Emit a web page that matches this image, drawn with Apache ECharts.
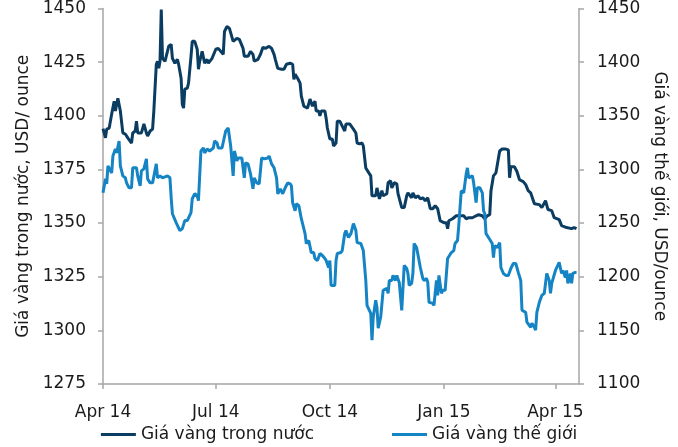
<!DOCTYPE html>
<html>
<head>
<meta charset="utf-8">
<script src="https://cdn.jsdelivr.net/npm/echarts@6/dist/echarts.min.js"></script>
<style>
  html, body { margin: 0; padding: 0; background: #fff; }
  #chart { width: 678px; height: 447px; }
</style>
</head>
<body>
<div id="chart"></div>
<script>
// giá vàng trong nước (trục trái)
let vnDates = ['2014-04-01','2014-04-03','2014-04-04','2014-04-06','2014-04-08','2014-04-10','2014-04-11','2014-04-13','2014-04-15','2014-04-17',
  '2014-04-19','2014-04-21','2014-04-24','2014-04-25','2014-04-27','2014-04-28','2014-04-29','2014-05-02','2014-05-04','2014-05-06',
  '2014-05-07','2014-05-09','2014-05-11','2014-05-12','2014-05-14','2014-05-15','2014-05-16','2014-05-17','2014-05-18','2014-05-19',
  '2014-05-21','2014-05-23','2014-05-24','2014-05-26','2014-05-27','2014-05-29','2014-05-31','2014-06-01','2014-06-03','2014-06-04',
  '2014-06-05','2014-06-06','2014-06-08','2014-06-09','2014-06-11','2014-06-12','2014-06-14','2014-06-16','2014-06-17','2014-06-18',
  '2014-06-20','2014-06-21','2014-06-22','2014-06-24','2014-06-25','2014-06-28','2014-06-29','2014-07-01','2014-07-03','2014-07-05',
  '2014-07-07','2014-07-08','2014-07-10','2014-07-12','2014-07-15','2014-07-18','2014-07-20','2014-07-23','2014-07-24','2014-07-27',
  '2014-07-29','2014-07-31','2014-08-01','2014-08-04','2014-08-06','2014-08-08','2014-08-10','2014-08-13','2014-08-15','2014-08-17',
  '2014-08-18','2014-08-20','2014-08-23','2014-08-25','2014-08-27','2014-08-30','2014-09-01','2014-09-02','2014-09-03','2014-09-05',
  '2014-09-07','2014-09-08','2014-09-10','2014-09-11','2014-09-13','2014-09-15','2014-09-17','2014-09-19','2014-09-20','2014-09-22',
  '2014-09-23','2014-09-24','2014-09-27','2014-09-28','2014-09-29','2014-10-01','2014-10-03','2014-10-04','2014-10-06','2014-10-07',
  '2014-10-09','2014-10-11','2014-10-13','2014-10-14','2014-10-17','2014-10-18','2014-10-20','2014-10-22','2014-10-23','2014-10-25',
  '2014-10-27','2014-10-28','2014-10-30','2014-10-31','2014-11-03','2014-11-04','2014-11-07','2014-11-08','2014-11-10','2014-11-12',
  '2014-11-13','2014-11-16','2014-11-17','2014-11-19','2014-11-20','2014-11-22','2014-11-24','2014-11-25','2014-11-28','2014-11-30',
  '2014-12-02','2014-12-03','2014-12-06','2014-12-07','2014-12-09','2014-12-11','2014-12-13','2014-12-15','2014-12-17','2014-12-19',
  '2014-12-21','2014-12-23','2014-12-25','2014-12-27','2014-12-29','2015-01-01','2015-01-03','2015-01-04','2015-01-05','2015-01-08',
  '2015-01-11','2015-01-13','2015-01-17','2015-01-19','2015-01-21','2015-01-24','2015-01-27','2015-01-29','2015-02-01','2015-02-03',
  '2015-02-05','2015-02-07','2015-02-08','2015-02-10','2015-02-12','2015-02-13','2015-02-15','2015-02-17','2015-02-20','2015-02-22',
  '2015-02-23','2015-02-24','2015-02-27','2015-03-01','2015-03-03','2015-03-06','2015-03-08','2015-03-10','2015-03-12','2015-03-15',
  '2015-03-16','2015-03-19','2015-03-21','2015-03-24','2015-03-26','2015-03-29','2015-03-31','2015-04-01','2015-04-04','2015-04-06',
  '2015-04-10','2015-04-14','2015-04-16','2015-04-18']
let vnValues = [1394,1389.7,1393.8,1394.3,1400.8,1406.8,1402.2,1408.2,1402.2,1392,
  1391.5,1389.7,1387.3,1392,1392.9,1397.5,1392,1392,1396.2,1392,
  1390.6,1392.9,1393.8,1402.2,1424,1425.4,1422.1,1425.4,1449.5,1426.8,
  1425.4,1430,1432.4,1433.3,1426.8,1424.5,1426.3,1424,1417.5,1405.4,
  1403.6,1412.4,1412.9,1415.2,1427.7,1434.7,1434.7,1431,1421.7,1425.4,
  1430,1429.1,1424.5,1426.3,1424.5,1426.8,1426.3,1431,1431.4,1430,
  1428.6,1439.3,1441.6,1440.7,1434.7,1436.1,1435.6,1431.4,1427.7,1427.7,
  1430,1428.6,1425.4,1426.3,1428.6,1431.9,1431.4,1432.4,1431.4,1428.6,
  1426.3,1422.1,1421.7,1421.7,1424,1424.5,1424,1417,1419.4,1417.5,
  1415.2,1409.2,1404.5,1403.6,1403.6,1407.8,1404.5,1406.8,1402.2,1402.2,
  1399.9,1402.2,1402.2,1398.9,1394.3,1389.2,1389.2,1385.9,1387.3,1397.5,
  1397.5,1395.2,1392.9,1396.2,1396.2,1396.2,1393.8,1392,1387.3,1386.9,
  1387.3,1385.9,1375.7,1375.3,1372,1362.7,1362.7,1366.4,1361.3,1365.1,
  1362.7,1363.7,1368.8,1369.7,1366.4,1368.8,1368.3,1363.7,1357.2,1357.2,
  1362.7,1364.1,1361.8,1364.1,1361.8,1362.7,1361.3,1361.8,1360.4,1361.8,
  1356.7,1356.7,1358.1,1356.7,1351.1,1350.2,1350.2,1347.4,1351.1,1352,
  1353.4,1353.4,1353.4,1352,1352.5,1352.5,1353.4,1353.9,1353.4,1352,
  1353.4,1353.9,1365.1,1372,1373.4,1373.9,1383.6,1384.5,1384.5,1384.1,
  1371.1,1376.2,1376.2,1373.9,1370.2,1369.3,1367.9,1365.1,1364.1,1359,
  1358.6,1358.6,1357.2,1360.4,1356.3,1355.8,1352.5,1351.6,1351.6,1348.8,
  1347.9,1347.4,1347.9,1347.4]

// giá vàng thế giới (trục phải)
let worldDates = ['2014-04-01','2014-04-03','2014-04-04','2014-04-05','2014-04-07','2014-04-08','2014-04-09','2014-04-11','2014-04-12','2014-04-14',
  '2014-04-15','2014-04-17','2014-04-19','2014-04-20','2014-04-22','2014-04-24','2014-04-25','2014-04-28','2014-04-29','2014-05-01',
  '2014-05-02','2014-05-04','2014-05-06','2014-05-07','2014-05-09','2014-05-11','2014-05-14','2014-05-15','2014-05-17','2014-05-19',
  '2014-05-23','2014-05-25','2014-05-26','2014-05-27','2014-05-30','2014-05-31','2014-06-02','2014-06-04','2014-06-06','2014-06-08',
  '2014-06-11','2014-06-12','2014-06-14','2014-06-16','2014-06-17','2014-06-19','2014-06-21','2014-06-22','2014-06-24','2014-06-26',
  '2014-06-29','2014-06-30','2014-07-02','2014-07-03','2014-07-06','2014-07-07','2014-07-09','2014-07-11','2014-07-13','2014-07-15',
  '2014-07-16','2014-07-18','2014-07-19','2014-07-22','2014-07-24','2014-07-25','2014-07-27','2014-07-29','2014-07-31','2014-08-01',
  '2014-08-03','2014-08-05','2014-08-07','2014-08-09','2014-08-12','2014-08-13','2014-08-15','2014-08-17','2014-08-19','2014-08-20',
  '2014-08-22','2014-08-24','2014-08-26','2014-08-28','2014-08-30','2014-08-31','2014-09-01','2014-09-03','2014-09-04','2014-09-06',
  '2014-09-08','2014-09-09','2014-09-11','2014-09-12','2014-09-14','2014-09-15','2014-09-16','2014-09-18','2014-09-19','2014-09-21',
  '2014-09-23','2014-09-25','2014-09-27','2014-09-28','2014-09-30','2014-10-01','2014-10-02','2014-10-05','2014-10-06','2014-10-07',
  '2014-10-10','2014-10-11','2014-10-13','2014-10-14','2014-10-16','2014-10-18','2014-10-20','2014-10-22','2014-10-23','2014-10-26',
  '2014-10-28','2014-10-30','2014-10-31','2014-11-01','2014-11-03','2014-11-04','2014-11-05','2014-11-07','2014-11-08','2014-11-09',
  '2014-11-11','2014-11-12','2014-11-13','2014-11-16','2014-11-17','2014-11-18','2014-11-20','2014-11-21','2014-11-23','2014-11-24',
  '2014-11-26','2014-11-28','2014-11-29','2014-11-30','2014-12-02','2014-12-03','2014-12-04','2014-12-06','2014-12-07','2014-12-08',
  '2014-12-10','2014-12-11','2014-12-13','2014-12-15','2014-12-16','2014-12-18','2014-12-19','2014-12-20','2014-12-23','2014-12-24',
  '2014-12-26','2014-12-27','2014-12-28','2014-12-30','2014-12-31','2015-01-02','2015-01-04','2015-01-05','2015-01-07','2015-01-09',
  '2015-01-10','2015-01-12','2015-01-13','2015-01-15','2015-01-17','2015-01-19','2015-01-20','2015-01-21','2015-01-24','2015-01-25',
  '2015-01-27','2015-01-28','2015-01-30','2015-02-01','2015-02-02','2015-02-03','2015-02-04','2015-02-06','2015-02-07','2015-02-09',
  '2015-02-10','2015-02-11','2015-02-13','2015-02-15','2015-02-16','2015-02-18','2015-02-20','2015-02-22','2015-02-24','2015-02-26',
  '2015-02-28','2015-03-02','2015-03-04','2015-03-05','2015-03-08','2015-03-09','2015-03-12','2015-03-13','2015-03-15','2015-03-16',
  '2015-03-17','2015-03-19','2015-03-21','2015-03-23','2015-03-24','2015-03-25','2015-03-27','2015-03-28','2015-03-29','2015-04-01',
  '2015-04-02','2015-04-04','2015-04-06','2015-04-07','2015-04-09','2015-04-10','2015-04-11','2015-04-13','2015-04-14','2015-04-15',
  '2015-04-17','2015-04-18']
let worldValues = [1278.2,1291.2,1286.6,1303.3,1298.7,1296.8,1312.6,1319.1,1315.4,1326.5,
  1303.3,1294,1292.2,1287.5,1282.9,1282.9,1301.5,1301.5,1294,1284.7,
  1298.7,1300.5,1309.8,1291.2,1287.5,1287.5,1305.2,1292.2,1294,1292.2,
  1294,1292.2,1273.6,1258.7,1250.4,1249.5,1243,1244.8,1252.3,1252.3,
  1259.7,1272.7,1277.3,1275.5,1270.8,1317.2,1320,1315.4,1319.1,1317.2,
  1320,1326.5,1324.7,1320,1320,1320,1335.8,1338.6,1321.9,1294,
  1317.2,1307.9,1310.7,1310.7,1292.2,1306.1,1305.2,1295.9,1281.9,1292.2,
  1287.5,1286.6,1310.7,1309.8,1310.7,1312.6,1305.2,1301.5,1292.2,1277.3,
  1281.9,1277.3,1282.9,1287.5,1286.6,1284.7,1269,1261.5,1268,1266.2,
  1254.1,1249.5,1240.2,1230.9,1233.7,1235.5,1222.5,1222.5,1217,1215.1,
  1221.6,1219.8,1217,1215.1,1208.6,1215.1,1191.9,1191.9,1215.1,1221.6,
  1222.5,1224.4,1240.2,1243,1236.5,1240.2,1249.5,1243,1231.8,1230.9,
  1224.4,1196.5,1173.3,1171.5,1165.9,1140.8,1162.2,1178,1171.5,1152,
  1162.2,1162.2,1187.3,1189.1,1184.5,1196.5,1196.5,1201.2,1196.5,1201.2,
  1194.7,1168.7,1168.7,1210.5,1207.7,1203,1191.9,1193.8,1203,1230.9,
  1227.2,1227.2,1208.6,1198.4,1196.5,1198.4,1194.7,1176.1,1175.2,1173.3,
  1196.5,1182.6,1201.2,1184.5,1187.3,1187.3,1217,1217,1222.5,1224.4,
  1230.9,1233.7,1247.6,1280.1,1278.2,1295.9,1301.5,1292.2,1294,1287.5,
  1269,1282.9,1282.9,1278.2,1261.5,1258.7,1240.2,1236.5,1238.3,1230.9,
  1217.9,1229,1227.2,1231.8,1208.6,1203,1201.2,1201.2,1207.7,1212.3,
  1212.3,1204,1196.5,1168.7,1166.8,1157.6,1152.9,1156.6,1152.9,1150.1,
  1166.8,1176.1,1182.6,1184.5,1193.8,1203,1196.5,1184.5,1193.8,1205.8,
  1205.8,1213.3,1203,1205.8,1199.3,1205.8,1193.8,1203,1193.8,1203,
  1204,1204]

let tickDates = ['2014-04-01','2014-07-01','2014-10-01','2015-01-01','2015-04-01']
let tickLabels = ['Apr 14','Jul 14','Oct 14','Jan 15','Apr 15']

let seriesNames = ['Giá vàng trong nước','Giá vàng thế giới']
let colors = ['#0b3d62','#1584c4']

function ts(s){
  let p = s.split('-')
  return Date.UTC(+p[0], +p[1]-1, +p[2])
}
let tickTs = tickDates.map(ts)

let font = 'DejaVu Sans'
let textColor = '#1a1a1a'
let axisGray = '#a6a6a6'

var myChart = echarts.init(document.getElementById('chart'))
var option = {
  animation: false,
  textStyle: { fontFamily: font },
  grid: { left: 103, right: 99, top: 7, bottom: 63, containLabel: false },
  legend: {
    bottom: -1,
    left: 'center',
    itemGap: 78,
    itemWidth: 35,
    itemHeight: 3,
    icon: 'rect',
    textStyle: { fontFamily: font, fontSize: 17, color: textColor },
    data: seriesNames
  },
  xAxis: {
    type: 'value',
    min: ts('2014-04-01'),
    max: ts('2015-04-20'),
    axisLine: { lineStyle: { color: axisGray, width: 1.5 } },
    axisTick: { show: true, length: 5, lineStyle: { color: axisGray, width: 1.5 }, customValues: tickTs },
    axisLabel: {
      customValues: tickTs,
      margin: 20,
      fontSize: 17,
      color: textColor,
      fontFamily: font,
      formatter: function (v) {
        let i = tickTs.indexOf(v)
        return i >= 0 ? tickLabels[i] : ''
      }
    },
    splitLine: { show: false }
  },
  yAxis: [
    {
      type: 'value',
      position: 'left',
      min: 1275, max: 1450, interval: 25,
      name: 'Giá vàng trong nước, USD/ ounce',
      nameLocation: 'middle',
      nameRotate: 90,
      nameGap: 70,
      nameTextStyle: { fontSize: 17, color: textColor, fontFamily: font },
      axisLine: { show: true, lineStyle: { color: axisGray, width: 1.5 } },
      axisTick: { show: true, length: 5, lineStyle: { color: axisGray, width: 1.5 } },
      axisLabel: { fontSize: 17, color: textColor, margin: 17, fontFamily: font, formatter: v => String(v) },
      splitLine: { show: false }
    },
    {
      type: 'value',
      position: 'right',
      min: 1100, max: 1450, interval: 50,
      name: 'Giá vàng thế giới, USD/ounce',
      nameLocation: 'middle',
      nameRotate: -90,
      nameGap: 69,
      nameTextStyle: { fontSize: 17, color: textColor, fontFamily: font },
      axisLine: { show: true, lineStyle: { color: axisGray, width: 1.5 } },
      axisTick: { show: true, length: 5, lineStyle: { color: axisGray, width: 1.5 } },
      axisLabel: { fontSize: 17, color: textColor, margin: 18, fontFamily: font, formatter: v => String(v) },
      splitLine: { show: false }
    }
  ],
  series: [
    {
      name: seriesNames[0],
      type: 'line',
      yAxisIndex: 0,
      showSymbol: false,
      color: colors[0],
      lineStyle: { width: 3, color: colors[0] },
      data: vnDates.map((d, i) => [ts(d), vnValues[i]])
    },
    {
      name: seriesNames[1],
      type: 'line',
      yAxisIndex: 1,
      showSymbol: false,
      color: colors[1],
      lineStyle: { width: 3, color: colors[1] },
      data: worldDates.map((d, i) => [ts(d), worldValues[i]])
    }
  ]
}
myChart.setOption(option)
</script>
</body>
</html>
